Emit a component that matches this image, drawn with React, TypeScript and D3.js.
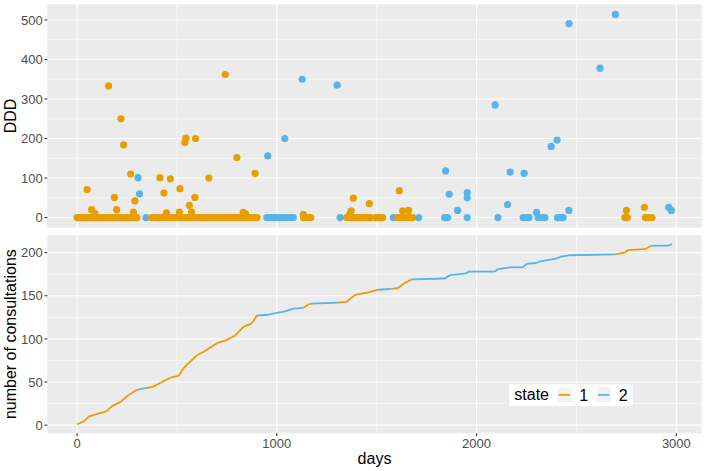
import { useEffect, useRef } from "react";
import * as d3 from "d3";

// top panel: DDD per consultation
const pointDays = [
  0, 8, 16, 25, 33, 42, 50, 58, 67, 75, 83, 92, 100, 108, 117, 125, 133, 142, 150, 158, 167, 175, 183, 192, 200, 208, 217, 225, 233, 242, 250, 258, 267, 275, 283, 292, 300,
  345,
  373, 385, 397, 409, 421, 433, 445, 457, 469, 481, 493, 505, 517, 529, 541, 553, 565, 577, 589, 601, 613, 625, 637, 649, 661, 673, 685, 697, 709, 721, 733, 745, 757, 769, 781, 793, 805, 817, 829, 841, 853, 865, 877, 889, 901,
  950, 962, 975, 990, 1005, 1020, 1040, 1055, 1070, 1083,
  1133, 1145, 1158, 1170,
  1317,
  1350, 1362, 1374, 1386, 1398, 1410, 1422, 1434, 1446, 1458, 1470, 1495, 1508, 1520, 1530,
  1583,
  1605, 1617, 1629, 1641, 1653, 1665, 1680,
  1710, 1840, 1855, 1953, 2107, 2233, 2248, 2263, 2308, 2325, 2342, 2405, 2420, 2433,
  2742, 2755, 2845, 2860, 2878,
  50, 73, 90, 158, 187, 198, 220, 233, 268, 282, 290, 415, 435, 448, 467, 512, 515, 540, 545, 562, 573, 590, 593, 660, 742, 800, 832, 843, 891, 1133, 1365, 1372, 1383, 1463, 1613, 1630, 1660, 2750, 2840,
  305, 313, 955, 1040, 1127, 1302, 1845, 1863, 1905, 1953, 1953, 2093, 2155, 2168, 2238, 2300, 2373, 2403, 2463, 2462, 2618, 2695, 2962, 2975,
];
const pointDDD = [
  ...Array(37).fill(0),
  0,
  ...Array(45).fill(0),
  ...Array(10).fill(0),
  ...Array(4).fill(0),
  0,
  ...Array(15).fill(0),
  0,
  ...Array(7).fill(0),
  0, 0, 0, 0, 0, 0, 0, 0, 0, 0, 0, 0, 0, 0,
  0, 0, 0, 0, 0,
  71, 20, 10, 333, 51, 20, 250, 184, 110, 14, 42, 101, 62, 12, 98, 14, 73, 190, 201, 31, 14, 51, 200, 100, 362, 152, 13, 10, 112, 8, 8, 17, 49, 35, 68, 17, 18, 18, 26,
  101, 60, 156, 200, 350, 335, 118, 59, 18, 63, 50, 285, 33, 115, 112, 13, 180, 196, 491, 18, 378, 514, 26, 18,
];
const pointState = [
  ...Array(37).fill("1"),
  "2",
  ...Array(45).fill("1"),
  ...Array(10).fill("2"),
  ...Array(4).fill("1"),
  "2",
  ...Array(15).fill("1"),
  "2",
  ...Array(7).fill("1"),
  "2", "2", "2", "2", "2", "2", "2", "2", "2", "2", "2", "2", "2", "2",
  "1", "1", "1", "1", "1",
  ...Array(39).fill("1"),
  ...Array(24).fill("2"),
];

// bottom panel: cumulative number of consultations
const lineDays = [
  0, 33, 58, 100, 147, 175, 217, 258, 300, 342, 375, 417, 467, 508, 533, 600, 641, 700, 741, 792, 833, 875,
  900, 958, 992, 1042, 1083, 1133, 1158, 1175, 1308, 1350, 1392, 1458, 1508, 1575, 1608, 1642, 1675, 1842,
  1867, 1950, 1958, 2092, 2108, 2167, 2233, 2250, 2300, 2317, 2400, 2417, 2467, 2692, 2742, 2758, 2842, 2875, 2958, 2978,
];
const lineCounts = [
  1, 4, 10, 13, 16, 22, 27, 35, 41, 43, 44, 49, 55, 57, 66, 81, 86, 95, 98, 104, 114, 118,
  127, 128, 130, 132, 135, 136, 140, 141, 142, 143, 151, 154, 157, 158, 159, 165, 169, 170,
  174, 176, 178, 178, 181, 183, 183, 187, 188, 190, 193, 195, 197, 198, 200, 203, 204, 208, 208, 210,
];
const lineState = [
  "1", "1", "1", "1", "1", "1", "1", "1", "2", "1", "1", "1", "1", "1", "1", "1", "1", "1", "1", "1", "1", "1",
  "2", "2", "2", "2", "2", "1", "1", "2", "1", "1", "1", "1", "2", "1", "1", "1", "2", "2",
  "2", "2", "2", "2", "2", "2", "2", "2", "2", "2", "2", "2", "2", "1", "1", "1", "1", "2", "2", "2",
];

const states = ["1", "2"];
const xTicks = [0, 1000, 2000, 3000];
const xMinor = [500, 1500, 2500];
const topTicks = [0, 100, 200, 300, 400, 500];
const topMinor = [50, 150, 250, 350, 450];
const bottomTicks = [0, 50, 100, 150, 200];
const bottomMinor = [25, 75, 125, 175];

const colors: Record<string, string> = { "1": "#E69F00", "2": "#56B4E9" };
const font = "'Liberation Sans', Arial, sans-serif";

const expand = (lo: number, hi: number): [number, number] => {
  const d = (hi - lo) * 0.05;
  return [lo - d, hi + d];
};

const App = () => {
  const svgRef = useRef<SVGSVGElement | null>(null);

  useEffect(() => {
    if (!svgRef.current) return;
    const svg = d3.select(svgRef.current);
    svg.selectAll("*").remove();

    const left = 47.3, right = 701.7;
    const top1 = 4.3, bot1 = 227.7;
    const top2 = 235, bot2 = 433.3;

    const allDays = [...pointDays, ...lineDays];
    const x = d3.scaleLinear()
      .domain(expand(d3.min(allDays) ?? 0, d3.max(allDays) ?? 1))
      .range([left, right]);
    const yTop = d3.scaleLinear()
      .domain(expand(0, d3.max(pointDDD) ?? 1))
      .range([bot1, top1]);
    const yBot = d3.scaleLinear()
      .domain(expand(d3.min(lineCounts) ?? 0, d3.max(lineCounts) ?? 1))
      .range([bot2, top2]);

    const panel = (y: d3.ScaleLinear<number, number>, t: number, b: number, major: number[], minor: number[]) => {
      const g = svg.append("g");
      g.append("rect").attr("x", left).attr("y", t).attr("width", right - left).attr("height", b - t).attr("fill", "#EBEBEB");
      g.selectAll(".xmin").data(xMinor).enter().append("line")
        .attr("x1", d => x(d)).attr("x2", d => x(d)).attr("y1", t).attr("y2", b)
        .attr("stroke", "#fff").attr("stroke-width", 0.55);
      g.selectAll(".ymin").data(minor).enter().append("line")
        .attr("x1", left).attr("x2", right).attr("y1", d => y(d)).attr("y2", d => y(d))
        .attr("stroke", "#fff").attr("stroke-width", 0.55);
      g.selectAll(".xmaj").data(xTicks).enter().append("line")
        .attr("x1", d => x(d)).attr("x2", d => x(d)).attr("y1", t).attr("y2", b)
        .attr("stroke", "#fff").attr("stroke-width", 1.1);
      g.selectAll(".ymaj").data(major).enter().append("line")
        .attr("x1", left).attr("x2", right).attr("y1", d => y(d)).attr("y2", d => y(d))
        .attr("stroke", "#fff").attr("stroke-width", 1.1);
      // y ticks + labels
      g.selectAll(".ytick").data(major).enter().append("line")
        .attr("x1", left - 2.8).attr("x2", left).attr("y1", d => y(d)).attr("y2", d => y(d))
        .attr("stroke", "#333").attr("stroke-width", 1.1);
      g.selectAll(".ylab").data(major).enter().append("text")
        .attr("x", left - 4.5).attr("y", d => y(d)).attr("dy", "0.36em")
        .attr("text-anchor", "end").attr("font-family", font).attr("font-size", 13)
        .attr("fill", "#4D4D4D").text(d => d);
    };

    panel(yTop, top1, bot1, topTicks, topMinor);
    panel(yBot, top2, bot2, bottomTicks, bottomMinor);

    // points
    svg.append("g").selectAll("circle")
      .data(pointDays.map((d, i) => ({ d, v: pointDDD[i], s: pointState[i] })))
      .enter().append("circle")
      .attr("cx", p => x(p.d)).attr("cy", p => yTop(p.v)).attr("r", 3.6)
      .attr("fill", p => colors[p.s]);

    // cumulative line, each segment coloured by its starting state
    const line = d3.line<[number, number]>().x(p => x(p[0])).y(p => yBot(p[1]));
    const lg = svg.append("g");
    for (let i = 0; i < lineDays.length - 1; i++) {
      lg.append("path")
        .attr("d", line([[lineDays[i], lineCounts[i]], [lineDays[i + 1], lineCounts[i + 1]]]))
        .attr("fill", "none").attr("stroke", colors[lineState[i]])
        .attr("stroke-width", 1.8).attr("stroke-linecap", "butt");
    }

    // x axis (bottom panel only)
    const xa = svg.append("g");
    xa.selectAll("line").data(xTicks).enter().append("line")
      .attr("x1", d => x(d)).attr("x2", d => x(d)).attr("y1", bot2).attr("y2", bot2 + 2.8)
      .attr("stroke", "#333").attr("stroke-width", 1.1);
    xa.selectAll("text").data(xTicks).enter().append("text")
      .attr("x", d => x(d)).attr("y", 447.5).attr("text-anchor", "middle")
      .attr("font-family", font).attr("font-size", 13).attr("fill", "#4D4D4D").text(d => d);

    // axis titles
    svg.append("text").attr("x", (left + right) / 2).attr("y", 464).attr("text-anchor", "middle")
      .attr("font-family", font).attr("font-size", 16).attr("fill", "#000").text("days");
    svg.append("text").attr("transform", `translate(16,${(top1 + bot1) / 2}) rotate(-90)`)
      .attr("text-anchor", "middle").attr("font-family", font).attr("font-size", 16).text("DDD");
    svg.append("text").attr("transform", `translate(16,${(top2 + bot2) / 2}) rotate(-90)`)
      .attr("text-anchor", "middle").attr("font-family", font).attr("font-size", 16).text("number of consultations");

    // legend
    const leg = svg.append("g").attr("transform", "translate(509.3,384.3)");
    leg.append("rect").attr("width", 123.4).attr("height", 21.7).attr("fill", "#fff");
    leg.append("text").attr("x", 5).attr("y", 16).attr("font-family", font).attr("font-size", 16).text("state");
    const keyX = [48, 87.4];
    states.forEach((s, i) => {
      leg.append("rect").attr("x", keyX[i]).attr("y", 3.4).attr("width", 14.4).attr("height", 14.4).attr("fill", "#F2F2F2");
      leg.append("line").attr("x1", keyX[i] + 1.5).attr("x2", keyX[i] + 12.9).attr("y1", 10.6).attr("y2", 10.6)
        .attr("stroke", colors[s]).attr("stroke-width", 1.8);
      leg.append("text").attr("x", keyX[i] + 22).attr("y", 16.3).attr("font-family", font).attr("font-size", 16).text(s);
    });
  }, []);

  return (
    <svg ref={svgRef} width={706} height={471}
      style={{ position: "absolute", left: 0, top: 0, background: "#fff" }} />
  );
};

export default App;
